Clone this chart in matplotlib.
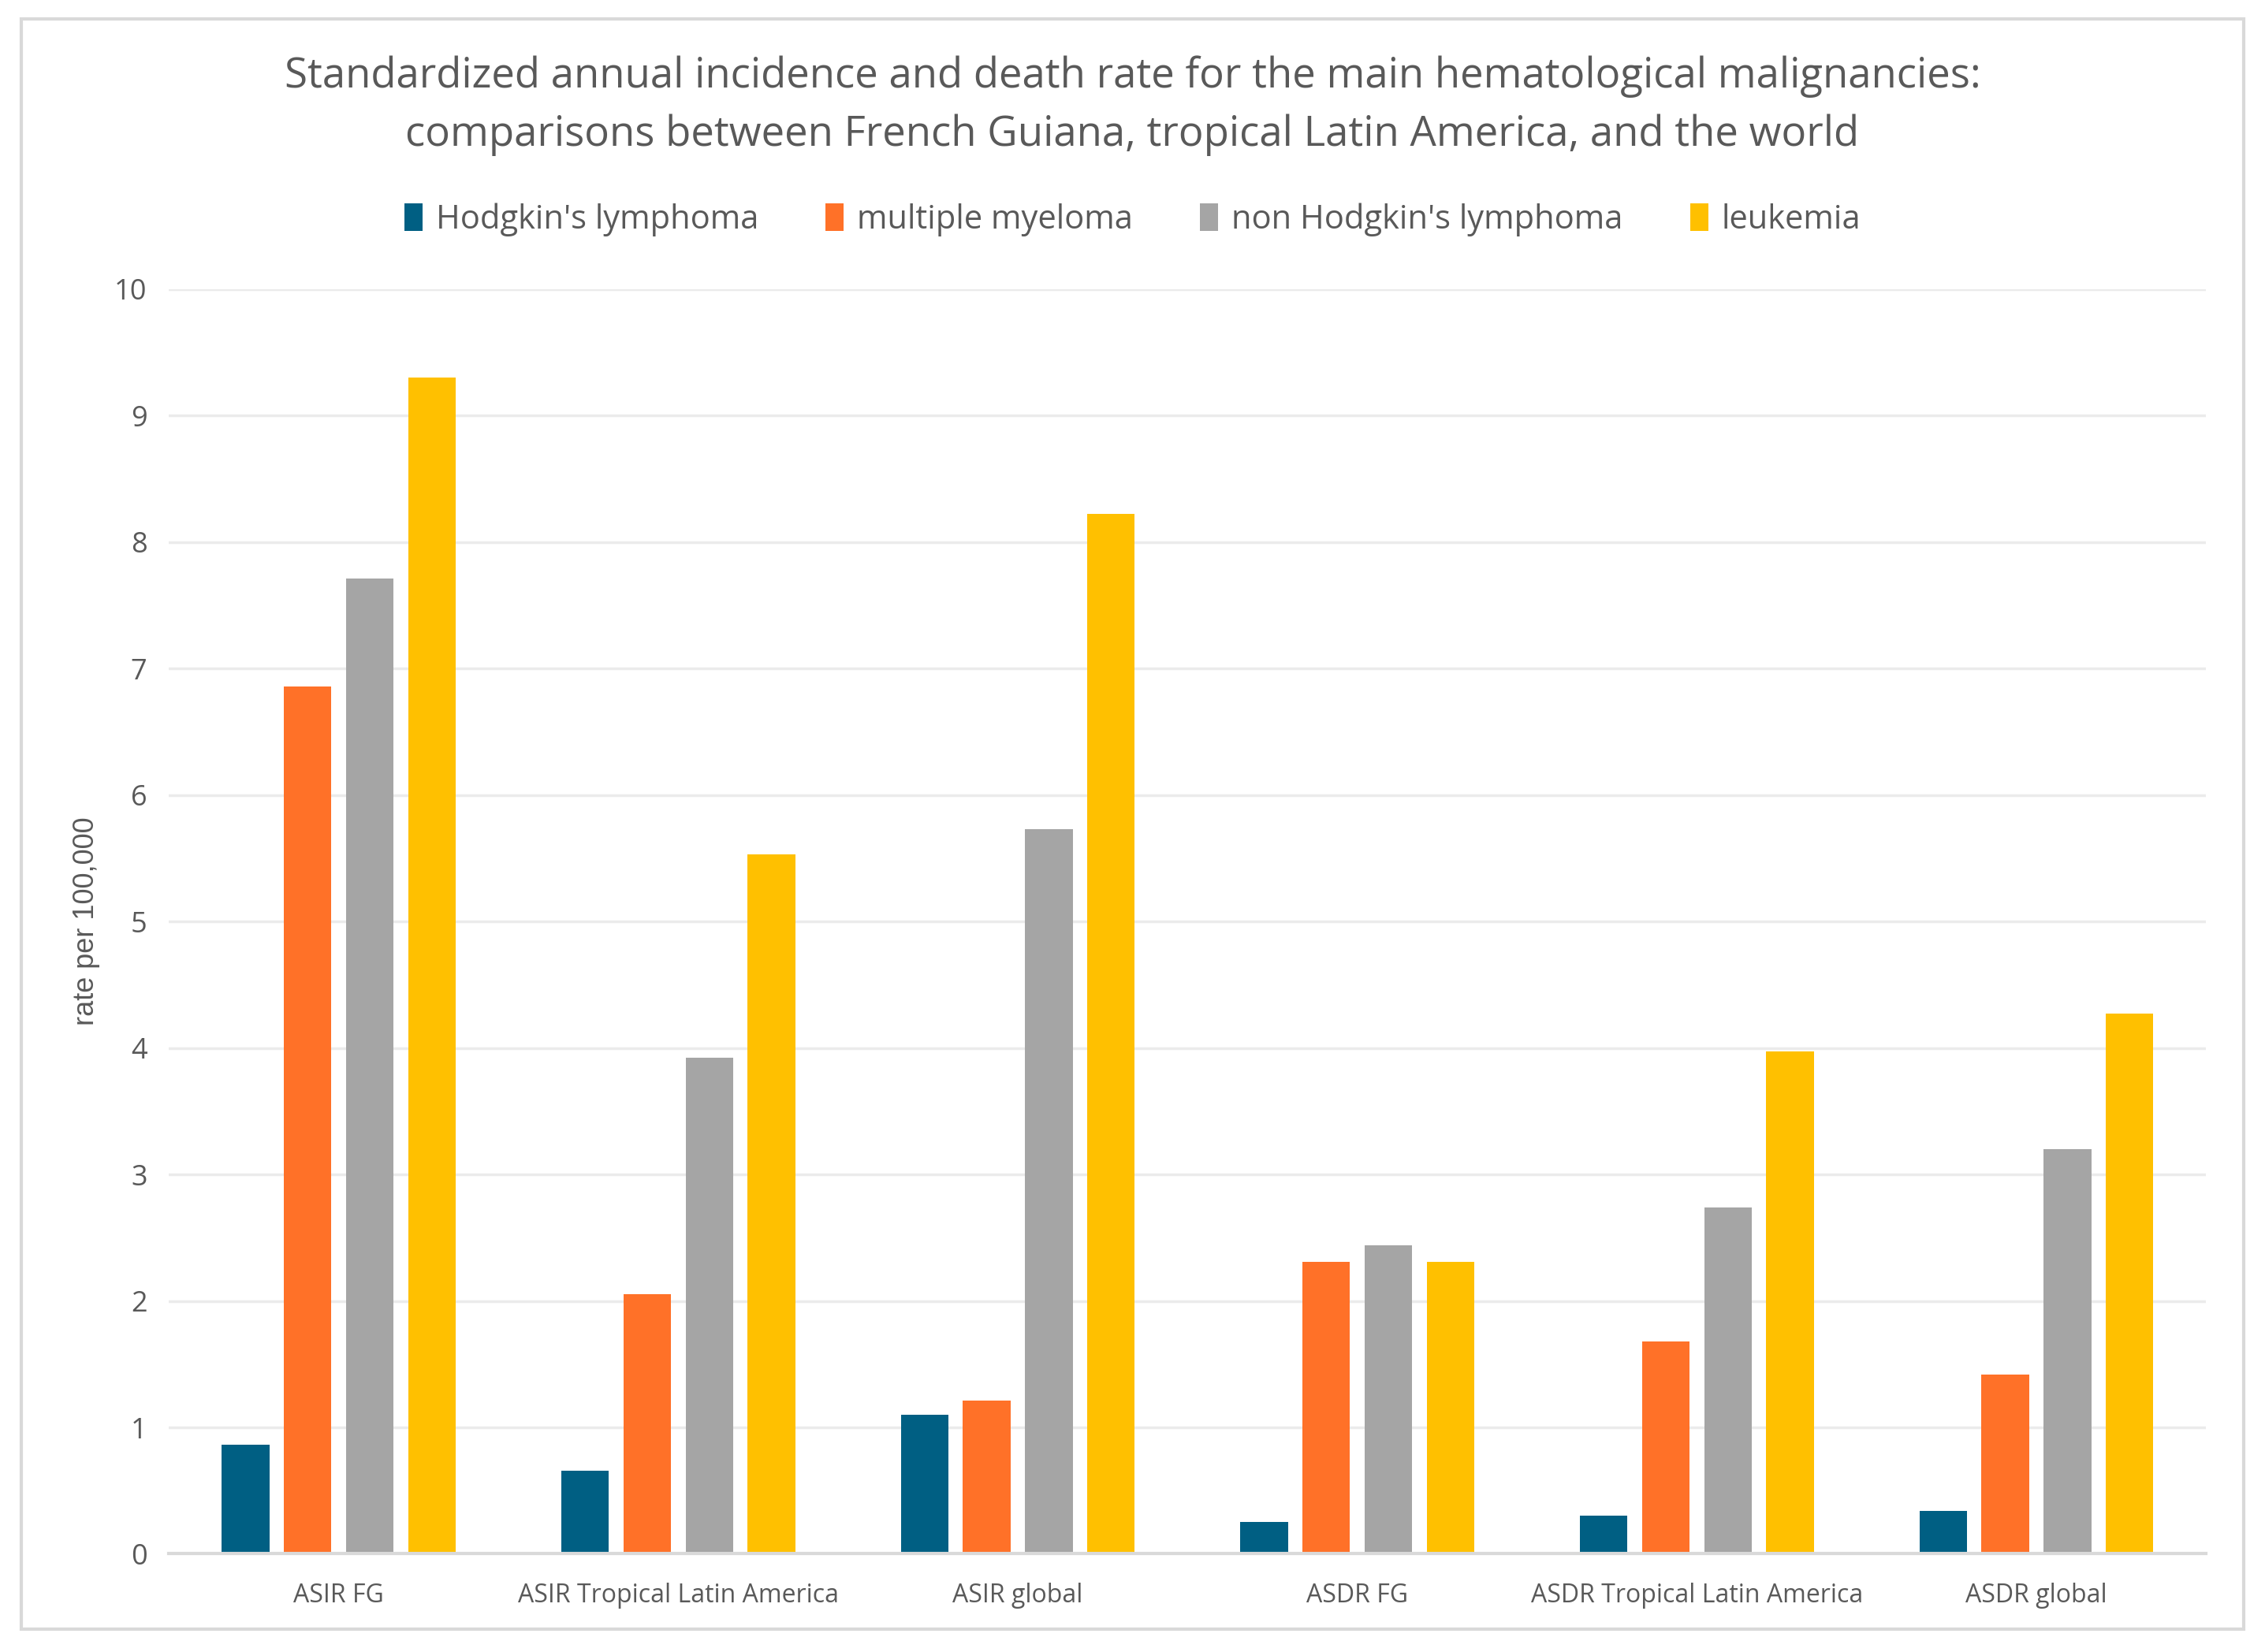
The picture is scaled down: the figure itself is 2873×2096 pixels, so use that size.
import matplotlib
matplotlib.use("Agg")
import matplotlib.pyplot as plt
import numpy as np
from matplotlib.patches import Rectangle

# --------------------------------------------------
# Data (rate per 100,000)
# --------------------------------------------------
categories = ["ASIR FG", "ASIR Tropical Latin America", "ASIR global",
              "ASDR FG", "ASDR Tropical Latin America", "ASDR global"]
series_names = ["Hodgkin's lymphoma", "multiple myeloma",
                "non Hodgkin's lymphoma", "leukemia"]
hodgkin = [0.86, 0.66, 1.10, 0.25, 0.30, 0.34]
myeloma = [6.86, 2.05, 1.21, 2.31, 1.68, 1.42]
non_hodgkin = [7.71, 3.92, 5.73, 2.44, 2.74, 3.20]
leukemia = [9.30, 5.53, 8.22, 2.31, 3.97, 4.27]
colors = ["#005F83", "#FF7128", "#A5A5A5", "#FFC000"]

# --------------------------------------------------
# Plot
# --------------------------------------------------
plt.rcParams["font.family"] = ["Open Sans", "DejaVu Sans"]
fig = plt.figure(figsize=(28.73, 20.96), dpi=100)
ax = fig.add_axes([0.0746, 0.0594, 0.8994, 0.7657])

x = np.arange(len(categories))
step = 0.183
width = 0.14
for i, (vals, name, col) in enumerate(zip([hodgkin, myeloma, non_hodgkin, leukemia],
                                          series_names, colors)):
    ax.bar(x + (i - 1.5) * step, vals, width=width, color=col, label=name, zorder=3)

ax.set_xlim(-0.5, len(categories) - 0.5)
ax.set_ylim(0, 10)
ax.set_yticks(range(0, 11))
ax.set_xticks(x)
ax.set_xticklabels(categories, fontsize=23, color="#595959")
ax.tick_params(axis="y", labelsize=26, labelcolor="#595959", length=0, pad=20)
ax.tick_params(axis="x", length=0, pad=26)
ax.grid(axis="y", color="#EBEBEB", linewidth=2.5, zorder=0)
for s in ["top", "right", "left"]:
    ax.spines[s].set_visible(False)
ax.spines["bottom"].set_color("#D9D9D9")
ax.spines["bottom"].set_linewidth(3)
ax.spines["bottom"].set_zorder(4)

ax.set_ylabel("rate per 100,000", fontsize=26, color="#595959",
              family=["Liberation Sans"], labelpad=13)

fig.text(0.5, 0.936,
         "Standardized annual incidence and death rate for the main hematological malignancies:\n"
         "comparisons between French Guiana, tropical Latin America, and the world",
         ha="center", va="center", fontsize=38, color="#595959", linespacing=1.52)

fig.legend(loc="center", bbox_to_anchor=(0.5, 0.867), ncol=4, frameon=False,
           fontsize=30, labelcolor="#595959", handlelength=0.55, handleheight=0.9,
           handletextpad=0.4, columnspacing=2.05)

fig.add_artist(Rectangle((15 / 1568, 1 - 1128 / 1144), (1553 - 15) / 1568, (1128 - 13) / 1144,
                         transform=fig.transFigure, fill=False, edgecolor="#D9D9D9",
                         linewidth=3))

plt.savefig("out.png", dpi=100)
